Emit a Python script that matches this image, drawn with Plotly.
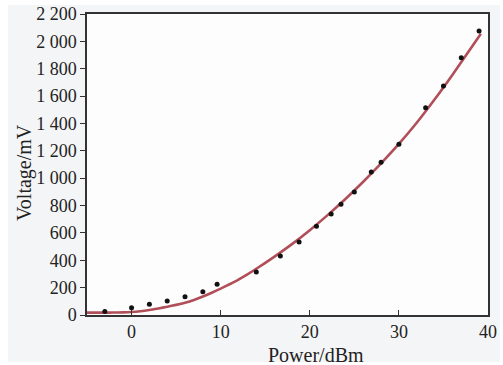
import plotly.graph_objects as go

# Measured data points
power_dbm = [-3, 0, 2, 4, 6, 8, 9.6, 14, 16.7, 18.8, 20.75, 22.4, 23.5, 25, 26.9, 28, 30, 33, 35, 37, 39]
voltage_mv = [25, 53, 78, 102, 134, 170, 224, 314, 431, 534, 648, 738, 809, 899, 1046, 1116, 1248, 1515, 1674, 1881, 2075]

# Fitted curve
fit_x = [-5, -4, -3, -2, -1, 0, 1, 2, 3, 4, 5, 6, 7, 8, 9, 10, 11, 12, 13, 14,
         16, 18, 20, 22, 24, 26, 28, 30, 32, 34, 36, 38, 39.2]
fit_y = [17, 17, 17, 18, 19, 22, 28, 37, 48, 60, 74, 90, 110, 135, 163, 193, 225, 259, 297, 338,
         425, 518, 620, 730, 848, 974, 1108, 1250, 1405, 1575, 1755, 1943, 2055]

x_ticks = [0, 10, 20, 30, 40]
y_ticks = [0, 200, 400, 600, 800, 1000, 1200, 1400, 1600, 1800, 2000, 2200]
y_tick_text = ["0", "200", "400", "600", "800", "1 000", "1 200", "1 400", "1 600", "1 800", "2 000", "2 200"]

FONT = "Liberation Serif, Times New Roman, serif"

fig = go.Figure()
fig.add_trace(go.Scatter(x=fit_x, y=fit_y, mode="lines",
                         line=dict(color="#b04f59", width=2.6, shape="spline", smoothing=0.6),
                         hoverinfo="skip", showlegend=False))
fig.add_trace(go.Scatter(x=power_dbm, y=voltage_mv, mode="markers",
                         marker=dict(color="#111111", size=5), showlegend=False))

fig.update_layout(
    template="none",
    width=503, height=365,
    margin=dict(l=87, r=15, t=14, b=50, autoexpand=False),
    paper_bgcolor="white",
    plot_bgcolor="rgba(0,0,0,0)",
    font=dict(family=FONT, size=18, color="#222222"),
    showlegend=False,
    shapes=[
        dict(type="rect", xref="paper", yref="paper", x0=-0.197, x1=1.03, y0=-0.156, y1=1.03,
             fillcolor="#f4f5f6", line=dict(width=0), layer="below"),
        dict(type="rect", xref="paper", yref="paper", x0=0, x1=1, y0=0, y1=1,
             fillcolor="#fdfdfd", line=dict(width=0), layer="below"),
    ],
    annotations=[
        dict(text="Power/dBm", xref="paper", yref="paper", x=(316 - 87) / 401, y=(315 - 355) / 301,
             showarrow=False, xanchor="center", yanchor="middle",
             font=dict(family=FONT, size=20, color="#222222")),
        dict(text="Voltage/mV", xref="paper", yref="paper", x=(24 - 87) / 401, y=(315 - 172) / 301,
             showarrow=False, xanchor="center", yanchor="middle", textangle=-90,
             font=dict(family=FONT, size=20, color="#222222")),
    ],
)

fig.update_xaxes(range=[-5, 40], tickvals=x_ticks, ticks="inside", ticklen=5, tickwidth=1.2,
                 tickcolor="#333333", showline=True, linecolor="#333333", linewidth=1.5, mirror=True,
                 showgrid=False, zeroline=False, automargin=False, tickfont=dict(size=18))
fig.update_yaxes(range=[0, 2200], tickvals=y_ticks, ticktext=y_tick_text, ticks="outside", ticklen=5,
                 tickwidth=1.2, tickcolor="#333333", showline=True, linecolor="#333333", linewidth=1.5,
                 mirror=True, showgrid=False, zeroline=False, automargin=False, tickfont=dict(size=18))

fig.write_html("out.html", config={"displayModeBar": False},
               post_script="document.body.style.margin='0';document.body.style.overflow='hidden';")
